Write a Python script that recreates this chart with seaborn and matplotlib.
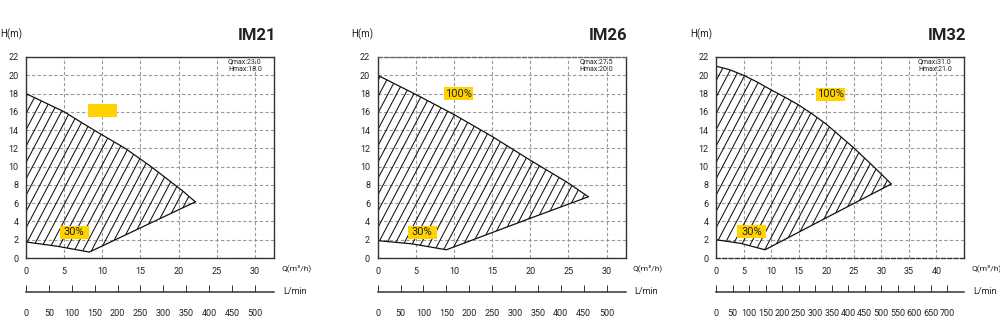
import numpy as np
import pandas as pd
import matplotlib
matplotlib.use("Agg")
import matplotlib.pyplot as plt
from matplotlib.patches import Polygon, Rectangle
import seaborn as sns

# ---------------- data ----------------
models = ["IM21", "IM26", "IM32"]
qmax = [23.0, 27.5, 31.0]
hmax = [18.0, 20.0, 21.0]

im21_top_q = [0, 2.5, 5, 8.9, 13.0, 16.4, 19.5, 20.6, 21.4, 22.2]
im21_top_h = [18.0, 17.0, 16.0, 14.0, 12.0, 10.0, 8.0, 7.3, 6.7, 6.15]
im21_bot_q = [0, 4, 8.3, 15, 22.2]
im21_bot_h = [1.75, 1.3, 0.65, 3.3, 6.15]

im26_top_q = [0, 5, 10, 15, 20, 25, 27.6]
im26_top_h = [20.0, 17.9, 15.7, 13.3, 10.7, 8.2, 6.7]
im26_bot_q = [0, 4.5, 9.0, 20, 27.6]
im26_bot_h = [1.9, 1.55, 0.9, 4.35, 6.7]

im32_top_q = [0, 2.5, 5, 7.5, 10, 12.5, 15, 17.5, 20, 22.5, 25, 28.6, 30.3, 31.8]
im32_top_h = [21.0, 20.6, 20.0, 19.25, 18.4, 17.6, 16.75, 15.75, 14.65, 13.35, 12.05, 10.0, 9.0, 8.1]
im32_bot_q = [0, 4.5, 8.9, 20, 31.8]
im32_bot_h = [2.0, 1.6, 0.9, 4.4, 8.1]

tops = [(im21_top_q, im21_top_h), (im26_top_q, im26_top_h), (im32_top_q, im32_top_h)]
bots = [(im21_bot_q, im21_bot_h), (im26_bot_q, im26_bot_h), (im32_bot_q, im32_bot_h)]

q_ticks = [list(range(0, 31, 5)), list(range(0, 31, 5)), list(range(0, 41, 5))]
lmin_ticks = [list(range(0, 501, 50)), list(range(0, 501, 50)), list(range(0, 701, 50))]
h_ticks = list(range(0, 23, 2))
xlims = [32.5, 32.5, 45.0]

# label boxes: (text, q, h)
labels_100 = [("", 10.0, 16.15), ("100%", 10.6, 18.0), ("100%", 20.7, 17.9)]
labels_30 = [("30%", 6.3, 2.83), ("30%", 5.85, 2.8), ("30%", 6.5, 2.9)]

# ---------------- style ----------------
sns.set_theme(style="white")
plt.rcParams["font.family"] = ["Roboto", "DejaVu Sans"]

W, H = 1000, 335
fig = plt.figure(figsize=(W / 100, H / 100), dpi=100)

lefts = [26, 377.7, 716]
ax_w = 248
ax_top, ax_bot = 57, 258
ax_h = ax_bot - ax_top
lmin_y = 292

TXT = "#222222"
GRID = "#9a9a9a"
YELLOW = "#FFD200"

for i in range(3):
    L = lefts[i]
    ax = fig.add_axes([L / W, (H - ax_bot) / H, ax_w / W, ax_h / H])
    ax.set_xlim(0, xlims[i])
    ax.set_ylim(0, 22)
    ax.set_xticks(q_ticks[i])
    ax.set_yticks(h_ticks)
    ax.tick_params(axis="both", length=0, labelsize=6.5, colors=TXT)
    ax.tick_params(axis="x", pad=6.5)
    ax.tick_params(axis="y", pad=5.5)
    ax.grid(True, color=GRID, linestyle=(0, (3, 2)), linewidth=0.8)
    for s in ax.spines.values():
        s.set_color("#333333")
        s.set_linewidth(1.0)
        s.set_visible(True)
    if i == 1:
        ax.spines["top"].set_linestyle((0, (3, 1.5)))
        ax.spines["top"].set_color("#666666")
    if i == 2:
        ax.spines["bottom"].set_linestyle((0, (3, 1.5)))

    tq, th = tops[i]
    bq, bh = bots[i]
    df_top = pd.DataFrame({"Q": tq, "H": th})
    df_bot = pd.DataFrame({"Q": bq, "H": bh})
    sns.lineplot(data=df_top, x="Q", y="H", ax=ax, color="#111111", linewidth=0.9, sort=False)
    sns.lineplot(data=df_bot, x="Q", y="H", ax=ax, color="#111111", linewidth=0.9, sort=False)
    ax.set_xlabel("")
    ax.set_ylabel("")

    # hatched region
    poly_pts = list(zip(tq, th)) + list(zip(bq[::-1], bh[::-1]))
    patch = Polygon(poly_pts, closed=True, facecolor="none", edgecolor="none")
    ax.add_patch(patch)
    slope = 1.9
    spacing = 8.6 / ax_w
    du = (ax_h / slope) / ax_w
    for u0 in np.arange(-1.0, 1.2, spacing):
        ln, = ax.plot([u0, u0 + du], [0, 1], transform=ax.transAxes,
                      color="#111111", linewidth=0.75)
        ln.set_clip_path(patch)

    # label boxes (29 x 13 px)
    bw = 29 * xlims[i] / ax_w
    bh_ = 13 * 22 / ax_h
    for (txt, q, h) in (labels_100[i], labels_30[i]):
        ax.add_patch(Rectangle((q - bw / 2, h - bh_ / 2), bw, bh_, facecolor=YELLOW,
                               edgecolor="none", zorder=5))
        if txt:
            ax.text(q, h, txt, ha="center", va="center", fontsize=8, color=TXT, zorder=6)

    # Qmax / Hmax
    ax.text(1 - 46 / ax_w, 0.995, f"Qmax:{qmax[i]:.1f}\nHmax:{hmax[i]:.1f}",
            transform=ax.transAxes, ha="left", va="top", fontsize=5, color=TXT,
            linespacing=1.1)

    # titles and axis labels
    ax.text(1 + 2 / ax_w, 1 + (ax_top - 35) / ax_h, models[i], transform=ax.transAxes,
            ha="right", va="center", fontsize=12, fontweight="bold", color=TXT)
    ax.text(-4 / ax_w, 1 + (ax_top - 34) / ax_h, "H(m)", transform=ax.transAxes,
            ha="right", va="center", fontsize=7, color=TXT)
    ax.text(1 + 7 / ax_w, -(268 - ax_bot) / ax_h, "Q(m³/h)", transform=ax.transAxes,
            ha="left", va="center", fontsize=6, color=TXT)

    # L/min secondary scale
    ax2 = fig.add_axes([L / W, (H - lmin_y) / H, ax_w / W, 0.001])
    ax2.set_xlim(0, xlims[i] * 1000 / 60)
    ax2.set_xticks(lmin_ticks[i])
    ax2.set_yticks([])
    for k, s in ax2.spines.items():
        s.set_visible(k == "bottom")
    ax2.spines["bottom"].set_color("#333333")
    ax2.spines["bottom"].set_linewidth(1.1)
    ax2.tick_params(axis="x", bottom=True, direction="in", length=5, width=0.7,
                    color="#333333", labelsize=6.5, labelcolor=TXT, pad=12)
    ax2.patch.set_alpha(0)
    ax2.text(1 + 9 / ax_w, 0.5, "L/min", transform=ax2.transAxes, ha="left",
             va="center", fontsize=6.5, color=TXT)

fig.savefig("out.png", dpi=100, facecolor="white")
